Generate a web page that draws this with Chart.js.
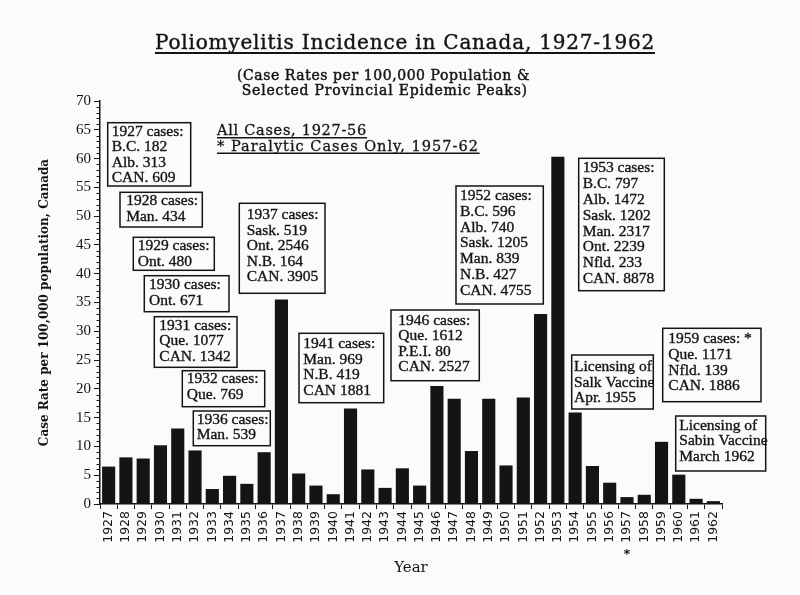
<!DOCTYPE html>
<html><head><meta charset="utf-8">
<script src="https://cdn.jsdelivr.net/npm/chart.js@4.4.1/dist/chart.umd.min.js"></script>
<style>html,body{margin:0;padding:0;background:#fbfbfb;}#wrap{width:800px;height:595px;}</style>
</head><body><div id="wrap"><canvas id="c" width="800" height="595"></canvas></div>
<script>
// ---- data ----
const years = ['1927','1928','1929','1930','1931','1932','1933','1934','1935','1936','1937','1938','1939','1940','1941','1942','1943','1944','1945','1946','1947','1948','1949','1950','1951','1952','1953','1954','1955','1956','1957','1958','1959','1960','1961','1962'];
const caseRates = [6.5,8.1,7.9,10.2,13.1,9.3,2.6,4.9,3.5,9.0,35.5,5.3,3.2,1.7,16.6,6.0,2.8,6.2,3.2,20.5,18.3,9.2,18.3,6.7,18.5,33.0,60.3,15.9,6.6,3.7,1.2,1.6,10.8,5.1,0.9,0.5];
const yTickValues = [0,5,10,15,20,25,30,35,40,45,50,55,60,65,70];

const titleText = 'Poliomyelitis Incidence in Canada, 1927-1962';
const subtitleLines = ['(Case Rates per 100,000 Population &', 'Selected Provincial Epidemic Peaks)'];
const legendLines = ['All Cases, 1927-56', '* Paralytic Cases Only, 1957-62'];
const yAxisTitle = 'Case Rate per 100,000 population, Canada';
const xAxisTitle = 'Year';
const paralyticMarkYear = '1957';

const note1927 = ['1927 cases:','B.C. 182','Alb. 313','CAN. 609'];
const note1928 = ['1928 cases:','Man. 434'];
const note1929 = ['1929 cases:','Ont. 480'];
const note1930 = ['1930 cases:','Ont. 671'];
const note1931 = ['1931 cases:','Que. 1077','CAN. 1342'];
const note1932 = ['1932 cases:','Que. 769'];
const note1936 = ['1936 cases:','Man. 539'];
const note1937 = ['1937 cases:','Sask. 519','Ont. 2546','N.B. 164','CAN. 3905'];
const note1941 = ['1941 cases:','Man. 969','N.B. 419','CAN 1881'];
const note1946 = ['1946 cases:','Que. 1612','P.E.I. 80','CAN. 2527'];
const note1952 = ['1952 cases:','B.C. 596','Alb. 740','Sask. 1205','Man. 839','N.B. 427','CAN. 4755'];
const note1953 = ['1953 cases:','B.C. 797','Alb. 1472','Sask. 1202','Man. 2317','Ont. 2239','Nfld. 233','CAN. 8878'];
const noteSalk = ['Licensing of','Salk Vaccine','Apr. 1955'];
const note1959 = ['1959 cases: *','Que. 1171','Nfld. 139','CAN. 1886'];
const noteSabin = ['Licensing of','Sabin Vaccine','March 1962'];

// ---- layout of annotation boxes (pixels): box x,y,w,h ; text left, first line centre, line step
const noteLayout = [
  {lines: note1927, b:[107.7,122.7,83,63.3], tx:111.7, ty:131.7, lh:15.5},
  {lines: note1928, b:[120,192.3,82.3,34.7], tx:126.2, ty:201, lh:15.7},
  {lines: note1929, b:[133.3,237.3,81,33], tx:137.7, ty:245.7, lh:16},
  {lines: note1930, b:[144.3,275.7,84.7,36], tx:149, ty:285, lh:15.7},
  {lines: note1931, b:[154.3,316.7,82.7,50.6], tx:159.3, ty:325.7, lh:15.5},
  {lines: note1932, b:[182.3,370.7,82.4,36], tx:186.7, ty:379.3, lh:15.7},
  {lines: note1936, b:[193.3,411,77,34.7], tx:196.7, ty:420, lh:15},
  {lines: note1937, b:[239.3,203.3,85.7,90], tx:246.7, ty:215, lh:15.6},
  {lines: note1941, b:[299,333.3,84.7,69.4], tx:303.3, ty:344, lh:15.7},
  {lines: note1946, b:[391,310,88.3,70.7], tx:398.3, ty:320.7, lh:15.5},
  {lines: note1952, b:[456,186,87.3,118], tx:460, ty:196, lh:15.8},
  {lines: note1953, b:[578.7,158.3,85.6,132.4], tx:582.7, ty:168.3, lh:15.8},
  {lines: noteSalk, b:[571.7,355,81.6,54], tx:574, ty:366.7, lh:15.8},
  {lines: note1959, b:[662.7,328.3,98.3,73.4], tx:668.3, ty:339.3, lh:15.6},
  {lines: noteSabin, b:[675.7,416,90,55], tx:679.3, ty:426, lh:15.4}
];

const INK = '#141414';

function drawFit(ctx, text, x, y, width, font, heavy) {
  ctx.font = font;
  ctx.letterSpacing = '0px';
  const w = ctx.measureText(text).width;
  if ('letterSpacing' in ctx && text.length > 1) {
    ctx.letterSpacing = ((width - w) / text.length).toFixed(2) + 'px';
  }
  ctx.fillText(text, x, y);
  if (heavy) { ctx.lineWidth = heavy; ctx.strokeText(text, x, y); }
  if ('letterSpacing' in ctx) ctx.letterSpacing = '0px';
}

const decorPlugin = {
  id: 'decor',
  beforeDraw(chart) {
    const ctx = chart.ctx;
    ctx.save();
    ctx.fillStyle = '#fbfbfb';
    ctx.fillRect(0, 0, chart.width, chart.height);
    ctx.restore();
  },
  afterDraw(chart) {
    const ctx = chart.ctx;
    const ys = chart.scales.y, xs = chart.scales.x;
    ctx.save();
    ctx.fillStyle = INK;
    ctx.strokeStyle = INK;
    ctx.textAlign = 'left';
    ctx.textBaseline = 'alphabetic';
    // title
    drawFit(ctx, titleText, 155, 48.5, 500, "20px 'DejaVu Serif'", 0.4);
    ctx.lineWidth = 2;
    ctx.beginPath(); ctx.moveTo(155, 53); ctx.lineTo(655, 53); ctx.stroke();
    // subtitle
    drawFit(ctx, subtitleLines[0], 237, 79.5, 293, "14px 'DejaVu Serif'", 0.45);
    drawFit(ctx, subtitleLines[1], 241.7, 94.5, 286.3, "14px 'DejaVu Serif'", 0.45);
    // legend
    drawFit(ctx, legendLines[0], 217, 135, 150, "14.5px 'DejaVu Serif'", 0.3);
    drawFit(ctx, legendLines[1], 217, 150.5, 262, "14.5px 'DejaVu Serif'", 0.3);
    ctx.lineWidth = 1.6;
    ctx.beginPath(); ctx.moveTo(217, 137.8); ctx.lineTo(367, 137.8); ctx.stroke();
    ctx.beginPath(); ctx.moveTo(217, 153.2); ctx.lineTo(479.5, 153.2); ctx.stroke();
    // minor y ticks
    ctx.lineWidth = 1;
    for (let v = ys.min; v <= ys.max; v++) {
      if (v % 5 === 0) continue;
      const py = Math.round(ys.getPixelForValue(v)) + 0.5;
      ctx.beginPath(); ctx.moveTo(ys.right - 3.5, py); ctx.lineTo(ys.right, py); ctx.stroke();
    }
    // annotation boxes
    ctx.font = "15.5px 'Liberation Serif'";
    ctx.textBaseline = 'middle';
    noteLayout.forEach(n => {
      const [bx, by, bw, bh] = n.b;
      ctx.lineWidth = 1.5;
      ctx.strokeRect(bx, by, bw, bh);
      ctx.lineWidth = 0.35;
      n.lines.forEach((t, i) => {
        ctx.fillText(t, n.tx, n.ty + i * n.lh);
        ctx.strokeText(t, n.tx, n.ty + i * n.lh);
      });
    });
    // paralytic marker under 1957
    ctx.textAlign = 'center';
    ctx.font = "bold 13px 'DejaVu Sans'";
    ctx.fillText('*', xs.getPixelForValue(years.indexOf(paralyticMarkYear)), 555);
    ctx.restore();
  }
};

new Chart(document.getElementById('c'), {
  type: 'bar',
  data: {
    labels: years,
    datasets: [{
      label: 'Case rate per 100,000',
      data: caseRates,
      backgroundColor: INK,
      borderWidth: 0,
      barPercentage: 0.76,
      categoryPercentage: 1.0
    }]
  },
  options: {
    responsive: false,
    animation: false,
    devicePixelRatio: 1,
    layout: { padding: { left: 30, right: 78, top: 101, bottom: 0 } },
    plugins: { legend: { display: false }, tooltip: { enabled: false }, title: { display: false } },
    scales: {
      x: {
        afterFit(s) { s.height = 91; },
        grid: { display: true, drawOnChartArea: false, offset: true, tickLength: 5, color: INK, lineWidth: 1 },
        border: { display: true, color: INK, width: 1.5 },
        ticks: { autoSkip: false, minRotation: 90, maxRotation: 90, padding: 2, color: INK,
                 font: { family: "'DejaVu Sans'", size: 12.5 } },
        title: { display: true, text: xAxisTitle, color: INK, padding: { top: 0, bottom: 18 },
                 font: { family: "'DejaVu Serif'", size: 15 } }
      },
      y: {
        min: 0, max: 70,
        afterFit(s) { s.width = 70; },
        afterBuildTicks(s) { s.ticks = yTickValues.map(v => ({ value: v })); },
        grid: { display: true, drawOnChartArea: false, tickLength: 6, color: INK, lineWidth: 1 },
        border: { display: true, color: INK, width: 1.5 },
        ticks: { padding: 3, color: INK, font: { family: "'Liberation Serif'", size: 15 } },
        title: { display: true, text: yAxisTitle, color: INK, padding: { top: 8, bottom: 0 },
                 font: { family: "'DejaVu Serif'", size: 12, weight: 'bold' } }
      }
    }
  },
  plugins: [decorPlugin]
});
</script></body></html>
